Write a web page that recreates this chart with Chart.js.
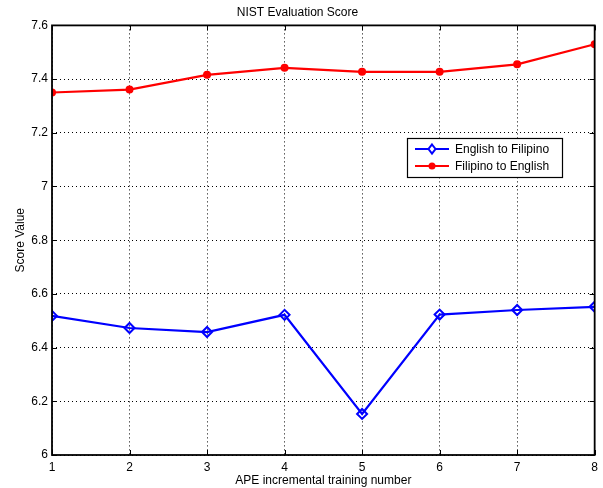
<!DOCTYPE html>
<html><head><meta charset="utf-8">
<script src="https://cdn.jsdelivr.net/npm/chart.js@4"></script>
<style>html,body{margin:0;padding:0;background:#fff}#wrap{width:603px;height:488px}</style>
</head><body><div id="wrap"><canvas id="c" width="603" height="488"></canvas></div>
<script>
const trainingNumbers = [1, 2, 3, 4, 5, 6, 7, 8];
const englishToFilipino = [6.518, 6.473, 6.458, 6.522, 6.153, 6.523, 6.540, 6.552];
const filipinoToEnglish = [7.350, 7.361, 7.416, 7.442, 7.427, 7.427, 7.455, 7.530];
const yTicks = [6, 6.2, 6.4, 6.6, 6.8, 7, 7.2, 7.4, 7.6];
const seriesNames = ['English to Filipino', 'Filipino to English'];

const FONT = "'Liberation Sans', Arial, sans-serif";

const boxPlugin = {
  id: 'box',
  afterDraw(chart) {
    const ctx = chart.ctx, a = chart.chartArea;
    const xs = chart.scales.x, ys = chart.scales.y;
    ctx.save();
    ctx.strokeStyle = '#000';
    ctx.lineWidth = 1;
    ctx.setLineDash([]);
    const tl = 5;
    ctx.beginPath();
    trainingNumbers.forEach(v => {
      const px = Math.round(xs.getPixelForValue(v)) + 0.5;
      ctx.moveTo(px, a.bottom); ctx.lineTo(px, a.bottom - tl);
      ctx.moveTo(px, a.top); ctx.lineTo(px, a.top + tl);
    });
    yTicks.forEach(v => {
      const py = Math.round(ys.getPixelForValue(v)) + 0.5;
      ctx.moveTo(a.left, py); ctx.lineTo(a.left + tl, py);
      ctx.moveTo(a.right, py); ctx.lineTo(a.right - tl, py);
    });
    ctx.stroke();
    ctx.lineWidth = 1.8;
    ctx.strokeRect(a.left, a.top, a.right - a.left, a.bottom - a.top);

    // legend
    const lx = 407, ly = 138, lw = 155, lh = 39;
    ctx.fillStyle = '#fff';
    ctx.fillRect(lx, ly, lw, lh);
    ctx.lineWidth = 1.2;
    ctx.strokeRect(lx + 0.5, ly + 0.5, lw, lh);
    ctx.font = '12px ' + FONT;
    ctx.textBaseline = 'middle';
    ctx.textAlign = 'left';
    chart.data.datasets.forEach((ds, i) => {
      const yy = ly + 11 + i * 17;
      ctx.strokeStyle = ds.borderColor;
      ctx.lineWidth = 2;
      ctx.beginPath(); ctx.moveTo(lx + 8, yy); ctx.lineTo(lx + 42, yy); ctx.stroke();
      const cx = lx + 25;
      if (ds.pointStyle === 'rectRot') {
        ctx.beginPath();
        ctx.moveTo(cx, yy - 4.5); ctx.lineTo(cx + 3.5, yy); ctx.lineTo(cx, yy + 4.5); ctx.lineTo(cx - 3.5, yy); ctx.closePath();
        ctx.fillStyle = '#fff'; ctx.fill(); ctx.stroke();
      } else {
        ctx.beginPath(); ctx.arc(cx, yy, 3.5, 0, Math.PI * 2);
        ctx.fillStyle = ds.borderColor; ctx.fill();
      }
      ctx.fillStyle = '#000';
      ctx.fillText(ds.label, lx + 48, yy + 1);
    });
    ctx.restore();
  }
};

new Chart(document.getElementById('c'), {
  type: 'line',
  data: {
    datasets: [
      {
        label: seriesNames[0],
        data: trainingNumbers.map((x, i) => ({x, y: englishToFilipino[i]})),
        borderColor: '#0000ff', backgroundColor: '#ffffff',
        borderWidth: 2.2, pointStyle: 'rectRot', pointRadius: 5,
        pointBorderWidth: 2, pointBackgroundColor: 'rgba(255,255,255,0)', pointBorderColor: '#0000ff',
        tension: 0
      },
      {
        label: seriesNames[1],
        data: trainingNumbers.map((x, i) => ({x, y: filipinoToEnglish[i]})),
        borderColor: '#ff0000', backgroundColor: '#ff0000',
        borderWidth: 2.2, pointStyle: 'circle', pointRadius: 4,
        pointBorderWidth: 0, pointBackgroundColor: '#ff0000',
        tension: 0
      }
    ]
  },
  options: {
    responsive: false, animation: false, devicePixelRatio: 1,
    layout: { padding: { left: 0, right: 8, top: 0, bottom: 0 } },
    plugins: {
      legend: { display: false },
      tooltip: { enabled: false },
      title: {
        display: true, text: 'NIST Evaluation Score', color: '#000',
        font: { family: FONT, size: 12, weight: 'normal' },
        padding: { top: 5, bottom: 6 }
      }
    },
    scales: {
      x: {
        type: 'linear', min: 1, max: 8,
        afterFit(s) { s.height = 33; },
        afterBuildTicks(s) { s.ticks = trainingNumbers.map(v => ({value: v})); },
        ticks: { color: '#000', font: { family: FONT, size: 12 }, padding: 5, maxRotation: 0 },
        grid: { color: '#000', lineWidth: 1, drawTicks: false },
        border: { display: false, dash: [1, 3] },
        title: { display: true, text: 'APE incremental training number', color: '#000',
                 font: { family: FONT, size: 12 }, padding: { top: 0, bottom: 0 } }
      },
      y: {
        type: 'linear', min: 6, max: 7.6,
        afterFit(s) { s.width = 52; },
        afterBuildTicks(s) { s.ticks = yTicks.map(v => ({value: v})); },
        ticks: { color: '#000', font: { family: FONT, size: 12 }, padding: 4,
                 callback: v => String(Number(v.toFixed(1))) },
        grid: { color: '#000', lineWidth: 1, drawTicks: false },
        border: { display: false, dash: [1, 3] },
        title: { display: true, text: 'Score Value', color: '#000',
                 font: { family: FONT, size: 12 }, padding: { top: 13, bottom: 0 } }
      }
    }
  },
  plugins: [boxPlugin]
});
</script></body></html>
